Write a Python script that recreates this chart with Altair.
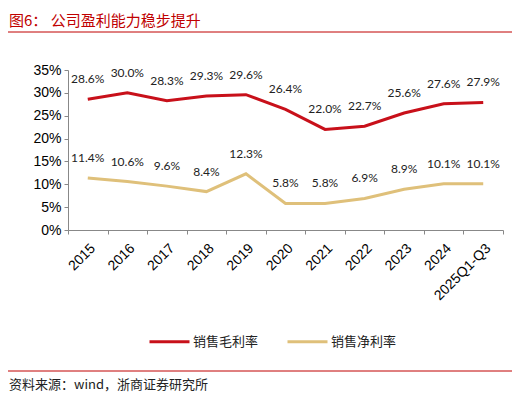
import pandas as pd
import altair as alt

years = ["2015", "2016", "2017", "2018", "2019", "2020", "2021", "2022", "2023", "2024", "2025Q1-Q3"]
gross = [28.6, 30.0, 28.3, 29.3, 29.6, 26.4, 22.0, 22.7, 25.6, 27.6, 27.9]
net = [11.4, 10.6, 9.6, 8.4, 12.3, 5.8, 5.8, 6.9, 8.9, 10.1, 10.1]
series = ["销售毛利率", "销售净利率"]
colors = ["#C8101A", "#DFC07A"]

rows = []
for name, vals in zip(series, [gross, net]):
    for y, v in zip(years, vals):
        rows.append({"year": y, "series": name, "value": v / 100, "label": f"{v:.1f}%"})
df = pd.DataFrame(rows)

x = alt.X("year:N", sort=years, title=None,
          scale=alt.Scale(paddingInner=0, paddingOuter=0),
          axis=alt.Axis(labelAngle=-45, tickBand="extent", labelFont="Liberation Sans",
                        labelFontSize=14, labelFontWeight="normal", labelColor="black",
                        domainColor="#888888", tickColor="#888888", tickSize=4, labelPadding=7))
y = alt.Y("value:Q", title=None,
          scale=alt.Scale(domain=[0, 0.35], nice=False),
          axis=alt.Axis(values=[0, 0.05, 0.1, 0.15, 0.2, 0.25, 0.3, 0.35], format=".0%",
                        grid=False, labelFont="Liberation Sans", labelFontSize=14,
                        labelColor="black", domainColor="#888888", tickColor="#888888",
                        tickSize=4, labelPadding=3))

base = alt.Chart(df).encode(x=x, y=y)

lines = base.mark_line(strokeWidth=3).encode(
    color=alt.Color("series:N", sort=series, scale=alt.Scale(domain=series, range=colors),
                    legend=alt.Legend(title=None, orient="none", legendX=80, legendY=250,
                                      direction="horizontal", symbolType="stroke",
                                      symbolSize=1600, symbolStrokeWidth=3,
                                      labelFont="Noto Sans CJK SC", labelFontSize=13,
                                      labelColor="#222222", columnPadding=22, labelOffset=2))
)

labels = base.mark_text(dy=-20, font="Lato", fontSize=12, color="#222222").encode(text="label:N")

title_df = pd.DataFrame({"t": ["图6： 公司盈利能力稳步提升"]})
title = alt.Chart(title_df).mark_text(align="left", baseline="alphabetic", font="Noto Sans CJK SC",
                                      fontSize=15, color="#C00000").encode(
    x=alt.value(-59), y=alt.value(-44), text="t:N")

source_df = pd.DataFrame({"t": ["资料来源：wind，浙商证券研究所"]})
source = alt.Chart(source_df).mark_text(align="left", baseline="middle", font="Noto Sans CJK SC",
                                        fontSize=13, color="#222222").encode(
    x=alt.value(-59), y=alt.value(315), text="t:N")

top_rule = alt.Chart(title_df).mark_rule(color="#C00000", strokeWidth=1).encode(
    x=alt.value(-60), x2=alt.value(444), y=alt.value(-38))
bottom_rule = alt.Chart(source_df).mark_rule(color="#C00000", strokeWidth=1).encode(
    x=alt.value(-60), x2=alt.value(444), y=alt.value(301))

chart = alt.layer(lines, labels, title, source, top_rule, bottom_rule).properties(
    width=435, height=160,
    autosize=alt.AutoSizeParams(type="none"),
    padding={"left": 60, "top": 62, "right": 9, "bottom": 164},
).configure_view(stroke=None)

chart.save("out.html", embed_options={"renderer": "svg", "actions": False})
